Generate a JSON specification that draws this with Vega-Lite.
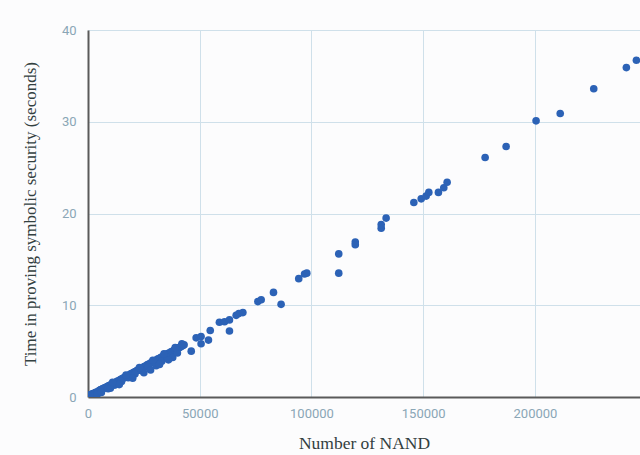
{
  "$schema": "https://vega.github.io/schema/vega-lite/v6.json",
  "width": 552,
  "height": 367,
  "autosize": {"type": "none"},
  "padding": {"left": 88, "top": 30, "right": 0, "bottom": 58},
  "background": "#fcfcfd",
  "config": {
    "view": {"stroke": null},
    "axis": {
      "labelFont": "Roboto",
      "labelFontSize": 13,
      "labelColor": "#8aa6b6",
      "titleFont": "Liberation Serif",
      "titleFontSize": 17.5,
      "titleFontWeight": "normal",
      "titleColor": "#33403f",
      "gridColor": "#cfe0ea",
      "gridOpacity": 1,
      "gridWidth": 1,
      "ticks": false,
      "domainColor": "#5a5a5a",
      "domainWidth": 2
    }
  },
  "data": {
    "values": [
      {"n": 200, "t": 0.1}, {"n": 500, "t": 0.15}, {"n": 800, "t": 0.2}, {"n": 1000, "t": 0.2},
      {"n": 1200, "t": 0.25}, {"n": 1500, "t": 0.3}, {"n": 1800, "t": 0.3}, {"n": 2000, "t": 0.35},
      {"n": 2300, "t": 0.3}, {"n": 2600, "t": 0.4}, {"n": 3000, "t": 0.4}, {"n": 3300, "t": 0.45},
      {"n": 3600, "t": 0.5}, {"n": 4000, "t": 0.55}, {"n": 4300, "t": 0.5}, {"n": 4700, "t": 0.6},
      {"n": 5000, "t": 0.7}, {"n": 5400, "t": 0.75}, {"n": 5800, "t": 0.8}, {"n": 6200, "t": 0.85},
      {"n": 6600, "t": 0.9}, {"n": 7000, "t": 0.95}, {"n": 7500, "t": 1.0}, {"n": 8000, "t": 1.05},
      {"n": 8500, "t": 1.1}, {"n": 9000, "t": 1.2}, {"n": 9500, "t": 1.25}, {"n": 10000, "t": 1.3},
      {"n": 10500, "t": 1.35}, {"n": 11000, "t": 1.4}, {"n": 11500, "t": 1.5}, {"n": 12000, "t": 1.55},
      {"n": 12500, "t": 1.6}, {"n": 13000, "t": 1.7}, {"n": 13500, "t": 1.75}, {"n": 14000, "t": 1.8},
      {"n": 14500, "t": 1.9}, {"n": 15000, "t": 1.95}, {"n": 15500, "t": 2.0}, {"n": 16000, "t": 2.1},
      {"n": 16500, "t": 2.15}, {"n": 17000, "t": 2.2}, {"n": 17500, "t": 2.3}, {"n": 18000, "t": 2.35},
      {"n": 18500, "t": 2.4}, {"n": 19000, "t": 2.5}, {"n": 19500, "t": 2.55}, {"n": 20000, "t": 2.6},
      {"n": 20500, "t": 2.7}, {"n": 21000, "t": 2.75}, {"n": 21500, "t": 2.8}, {"n": 22000, "t": 2.9},
      {"n": 22500, "t": 2.95}, {"n": 23000, "t": 3.0}, {"n": 23500, "t": 3.1}, {"n": 24000, "t": 3.15},
      {"n": 24500, "t": 3.2}, {"n": 25000, "t": 3.3}, {"n": 25500, "t": 3.35}, {"n": 26000, "t": 3.4},
      {"n": 26500, "t": 3.5}, {"n": 27000, "t": 3.55}, {"n": 27500, "t": 3.6}, {"n": 28000, "t": 3.7},
      {"n": 28500, "t": 3.75}, {"n": 29000, "t": 3.8}, {"n": 29500, "t": 3.9}, {"n": 30000, "t": 3.95},
      {"n": 30500, "t": 4.0}, {"n": 31000, "t": 4.1}, {"n": 31500, "t": 4.15}, {"n": 32000, "t": 4.2},
      {"n": 32500, "t": 4.3}, {"n": 33000, "t": 4.35}, {"n": 33500, "t": 4.4}, {"n": 34000, "t": 4.5},
      {"n": 34500, "t": 4.55}, {"n": 35000, "t": 4.6}, {"n": 35500, "t": 4.7}, {"n": 36000, "t": 4.75},
      {"n": 36500, "t": 4.8}, {"n": 37000, "t": 4.9}, {"n": 37500, "t": 4.95}, {"n": 38000, "t": 5.0},
      {"n": 38500, "t": 5.1}, {"n": 39000, "t": 5.15}, {"n": 39500, "t": 5.2}, {"n": 40000, "t": 5.3},
      {"n": 40500, "t": 5.35}, {"n": 41000, "t": 5.4}, {"n": 41500, "t": 5.5}, {"n": 42000, "t": 5.55},
      {"n": 42500, "t": 5.6}, {"n": 43000, "t": 5.7},
      {"n": 2000, "t": 0.1}, {"n": 4000, "t": 0.2}, {"n": 6000, "t": 0.5}, {"n": 9000, "t": 0.9},
      {"n": 12000, "t": 1.3}, {"n": 15000, "t": 1.7}, {"n": 18000, "t": 2.1}, {"n": 21000, "t": 2.5},
      {"n": 24000, "t": 2.9}, {"n": 27000, "t": 3.3}, {"n": 30500, "t": 3.4}, {"n": 33000, "t": 3.9},
      {"n": 35500, "t": 4.3}, {"n": 37900, "t": 4.3}, {"n": 40000, "t": 4.8}, {"n": 46200, "t": 5.0},
      {"n": 10000, "t": 0.95}, {"n": 14000, "t": 1.35}, {"n": 20000, "t": 2.05}, {"n": 25000, "t": 2.65},
      {"n": 28000, "t": 2.95}, {"n": 32000, "t": 3.55}, {"n": 36000, "t": 4.05},
      {"n": 11000, "t": 1.6}, {"n": 17000, "t": 2.4}, {"n": 23000, "t": 3.2}, {"n": 29000, "t": 4.0},
      {"n": 34000, "t": 4.7}, {"n": 39000, "t": 5.4}, {"n": 42000, "t": 5.8},
      {"n": 48400, "t": 6.45}, {"n": 50600, "t": 6.6}, {"n": 50600, "t": 5.8}, {"n": 53900, "t": 6.2},
      {"n": 54700, "t": 7.25}, {"n": 58800, "t": 8.15}, {"n": 61100, "t": 8.2}, {"n": 63300, "t": 8.4},
      {"n": 63300, "t": 7.2}, {"n": 66300, "t": 8.9}, {"n": 67500, "t": 9.1}, {"n": 69300, "t": 9.2},
      {"n": 76000, "t": 10.4}, {"n": 77500, "t": 10.6}, {"n": 83000, "t": 11.4}, {"n": 86400, "t": 10.1},
      {"n": 94300, "t": 12.9}, {"n": 96900, "t": 13.4}, {"n": 97900, "t": 13.5},
      {"n": 112200, "t": 15.6}, {"n": 112200, "t": 13.5}, {"n": 119600, "t": 16.9}, {"n": 119600, "t": 16.6},
      {"n": 131200, "t": 18.4}, {"n": 131200, "t": 18.8}, {"n": 133400, "t": 19.5},
      {"n": 145800, "t": 21.2}, {"n": 149100, "t": 21.6}, {"n": 151300, "t": 21.9}, {"n": 152500, "t": 22.3},
      {"n": 156800, "t": 22.3}, {"n": 159200, "t": 22.8}, {"n": 160700, "t": 23.4},
      {"n": 177700, "t": 26.1}, {"n": 187100, "t": 27.3}, {"n": 200500, "t": 30.1}, {"n": 211300, "t": 30.9},
      {"n": 226300, "t": 33.6}, {"n": 240900, "t": 35.9}, {"n": 245400, "t": 36.7}
    ]
  },
  "mark": {"type": "point", "filled": true, "shape": "circle", "size": 58, "color": "#2c62b6", "opacity": 1, "clip": true},
  "encoding": {
    "x": {
      "field": "n", "type": "quantitative",
      "scale": {"domain": [0, 247000], "nice": false, "zero": true},
      "axis": {"values": [0, 50000, 100000, 150000, 200000], "format": "d", "title": "Number of NAND", "titlePadding": 14, "labelPadding": 10, "labelFlush": false}
    },
    "y": {
      "field": "t", "type": "quantitative",
      "scale": {"domain": [0, 40], "nice": false},
      "axis": {"values": [0, 10, 20, 30, 40], "title": "Time in proving symbolic security (seconds)", "titleFontSize": 17, "titlePadding": 22, "labelPadding": 12}
    }
  }
}
